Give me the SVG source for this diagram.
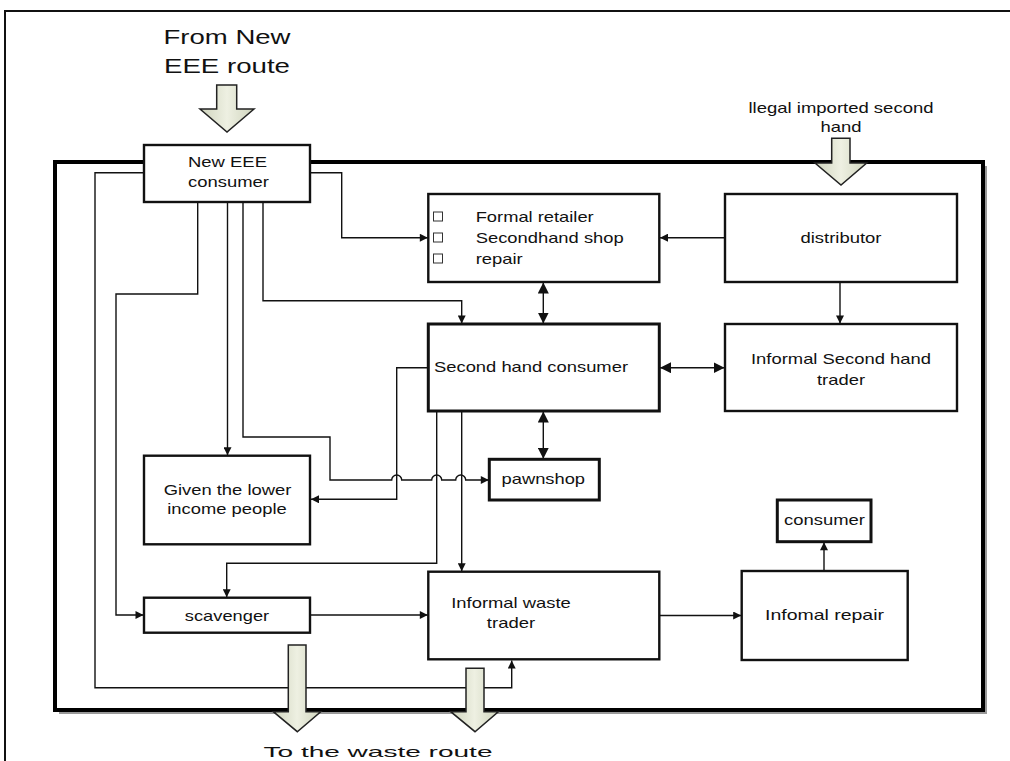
<svg xmlns="http://www.w3.org/2000/svg" width="1010" height="761" viewBox="0 0 1010 761">
<style>
.box{fill:#fff;stroke:#111;stroke-width:2.4}
.thick{stroke-width:3}
.ln{fill:none;stroke:#111;stroke-width:1.4}
.t{font-family:"Liberation Sans",Arial,Helvetica,sans-serif;font-size:15px;fill:#111}
.c{text-anchor:middle}
.big{font-size:21px}
.blk{fill:url(#bg);stroke:#222;stroke-width:1.5}
.chk{fill:#fff;stroke:#333;stroke-width:1}
</style>
<defs>
<marker id="a" viewBox="0 0 10 10" refX="10" refY="5" markerWidth="9" markerHeight="8" orient="auto-start-reverse" markerUnits="userSpaceOnUse"><path d="M0,0 L10,5 L0,10 z" fill="#111"/></marker>
<marker id="b" viewBox="0 0 10 10" refX="10" refY="5" markerWidth="11" markerHeight="11" orient="auto-start-reverse" markerUnits="userSpaceOnUse"><path d="M0,0 L10,5 L0,10 z" fill="#111"/></marker>
<linearGradient id="bg" x1="0" y1="0" x2="1" y2="0"><stop offset="0" stop-color="#cfd4bd"/><stop offset="0.5" stop-color="#eef0e2"/><stop offset="1" stop-color="#cfd4bd"/></linearGradient>
</defs>
<rect width="1010" height="761" fill="#fff"/>
<path d="M5,761 V11 H1010" fill="none" stroke="#111" stroke-width="2"/>
<path d="M986,166 V713 H59" fill="none" stroke="#999" stroke-width="2"/>
<rect x="55" y="162" width="928" height="548" fill="none" stroke="#000" stroke-width="4"/>

<g id="labels">
<text class="t c big" x="227" y="44" textLength="127" lengthAdjust="spacingAndGlyphs">From New</text>
<text class="t c big" x="227" y="73" textLength="126" lengthAdjust="spacingAndGlyphs">EEE route</text>
<text class="t c" x="841" y="113" textLength="185" lengthAdjust="spacingAndGlyphs">llegal imported second</text>
<text class="t c" x="841" y="132" textLength="41" lengthAdjust="spacingAndGlyphs">hand</text>
<text class="t c" x="378" y="757" font-size="23" textLength="229" lengthAdjust="spacingAndGlyphs">To the waste route</text>
</g>

<g id="connectors">
<path class="ln" d="M144,172.7 H95 V687.7 H511.7 V660.5" marker-end="url(#a)"/>
<path class="ln" d="M197.7,202 V294 H116 V615 H143.5" marker-end="url(#a)"/>
<path class="ln" d="M227.5,202 V455.2" marker-end="url(#a)"/>
<path class="ln" d="M243,202 V437 H330 V480 H391.7 A5,5 0 0 1 401.7,480 H431.7 A5,5 0 0 1 441.7,480 H455.7 A5,5 0 0 1 465.7,480 H488.8" marker-end="url(#a)"/>
<path class="ln" d="M263,202 V300.7 H461.7 V323.5" marker-end="url(#a)"/>
<path class="ln" d="M310,172.7 H341.7 V237.7 H427.8" marker-end="url(#a)"/>
<path class="ln" d="M725,237.7 H660" marker-end="url(#a)"/>
<path class="ln" d="M840,282 V323.5" marker-end="url(#a)"/>
<path class="ln" d="M543.3,282.5 V323.5" marker-start="url(#b)" marker-end="url(#b)"/>
<path class="ln" d="M660,367.7 H724.5" marker-start="url(#b)" marker-end="url(#b)"/>
<path class="ln" d="M543.3,411.5 V458.8" marker-start="url(#b)" marker-end="url(#b)"/>
<path class="ln" d="M428.3,367.7 H396.7 V499.3 H311" marker-end="url(#a)"/>
<path class="ln" d="M436.7,411 V563.3 H226.7 V597.2" marker-end="url(#a)"/>
<path class="ln" d="M461.7,409 V571.2" marker-end="url(#a)"/>
<path class="ln" d="M310,615 H427.8" marker-end="url(#a)"/>
<path class="ln" d="M659.3,615.5 H741.2" marker-end="url(#a)"/>
<path class="ln" d="M824,571 V542.2" marker-end="url(#a)"/>
</g>

<g id="new-eee-consumer">
<rect class="box" x="144" y="145" width="166" height="57"/>
<text class="t c" x="227.5" y="167" textLength="79" lengthAdjust="spacingAndGlyphs">New EEE</text>
<text class="t c" x="228.5" y="186.5" textLength="81" lengthAdjust="spacingAndGlyphs">consumer</text>
</g>

<g id="formal-retailer">
<rect class="box" x="428.3" y="194" width="231" height="88"/>
<rect class="chk" x="433.5" y="212" width="9" height="9"/>
<rect class="chk" x="433.5" y="233" width="9" height="9"/>
<rect class="chk" x="433.5" y="254" width="9" height="9"/>
<text class="t" x="475.7" y="221.5" textLength="118" lengthAdjust="spacingAndGlyphs">Formal retailer</text>
<text class="t" x="475.7" y="242.5" textLength="148" lengthAdjust="spacingAndGlyphs">Secondhand shop</text>
<text class="t" x="475.7" y="263.5" textLength="47" lengthAdjust="spacingAndGlyphs">repair</text>
</g>

<g id="distributor">
<rect class="box" x="725" y="194" width="232" height="88"/>
<text class="t c" x="841" y="243" textLength="81" lengthAdjust="spacingAndGlyphs">distributor</text>
</g>

<g id="second-hand-consumer">
<rect class="box thick" x="428.3" y="324" width="231" height="87"/>
<text class="t" x="434" y="372.3" textLength="194" lengthAdjust="spacingAndGlyphs">Second hand consumer</text>
</g>

<g id="informal-second-hand-trader">
<rect class="box" x="725" y="324" width="232" height="87"/>
<text class="t c" x="841" y="364" textLength="180" lengthAdjust="spacingAndGlyphs">Informal Second hand</text>
<text class="t c" x="841" y="385" textLength="48" lengthAdjust="spacingAndGlyphs">trader</text>
</g>

<g id="pawnshop">
<rect class="box thick" x="489.3" y="459.3" width="110" height="40.7"/>
<text class="t c" x="543.3" y="484" textLength="83.5" lengthAdjust="spacingAndGlyphs">pawnshop</text>
</g>

<g id="given-lower-income">
<rect class="box" x="144" y="455.7" width="166" height="88.6"/>
<text class="t c" x="227.5" y="495" textLength="127.7" lengthAdjust="spacingAndGlyphs">Given the lower</text>
<text class="t c" x="227" y="514" textLength="119.4" lengthAdjust="spacingAndGlyphs">income people</text>
</g>

<g id="scavenger">
<rect class="box" x="144" y="597.7" width="166" height="35"/>
<text class="t c" x="227" y="620.7" textLength="84.3" lengthAdjust="spacingAndGlyphs">scavenger</text>
</g>

<g id="informal-waste-trader">
<rect class="box" x="428.3" y="571.7" width="231" height="87.6"/>
<text class="t c" x="511" y="608" textLength="119.5" lengthAdjust="spacingAndGlyphs">Informal waste</text>
<text class="t c" x="511" y="628" textLength="48.3" lengthAdjust="spacingAndGlyphs">trader</text>
</g>

<g id="informal-repair">
<rect class="box" x="741.7" y="571" width="166" height="89"/>
<text class="t c" x="824.5" y="620" textLength="119" lengthAdjust="spacingAndGlyphs">Infomal repair</text>
</g>

<g id="consumer">
<rect class="box thick" x="777.3" y="500" width="93.7" height="41.7"/>
<text class="t c" x="824.5" y="525" textLength="81" lengthAdjust="spacingAndGlyphs">consumer</text>
</g>

<g id="block-arrows">
<polygon class="blk" points="216.7,85 236.7,85 236.7,109 254,109 227,132 200,109 216.7,109"/>
<polygon class="blk" points="831.7,138.3 850,138.3 850,163 866.7,163 841,185 815,163 831.7,163"/>
<polygon class="blk" points="288.3,645 306,645 306,711.7 320.7,711.7 297.3,731.7 273.3,711.7 288.3,711.7"/>
<polygon class="blk" points="466,668.3 484,668.3 484,711.7 498.3,711.7 475,731.7 450.7,711.7 466,711.7"/>
</g>
</svg>
